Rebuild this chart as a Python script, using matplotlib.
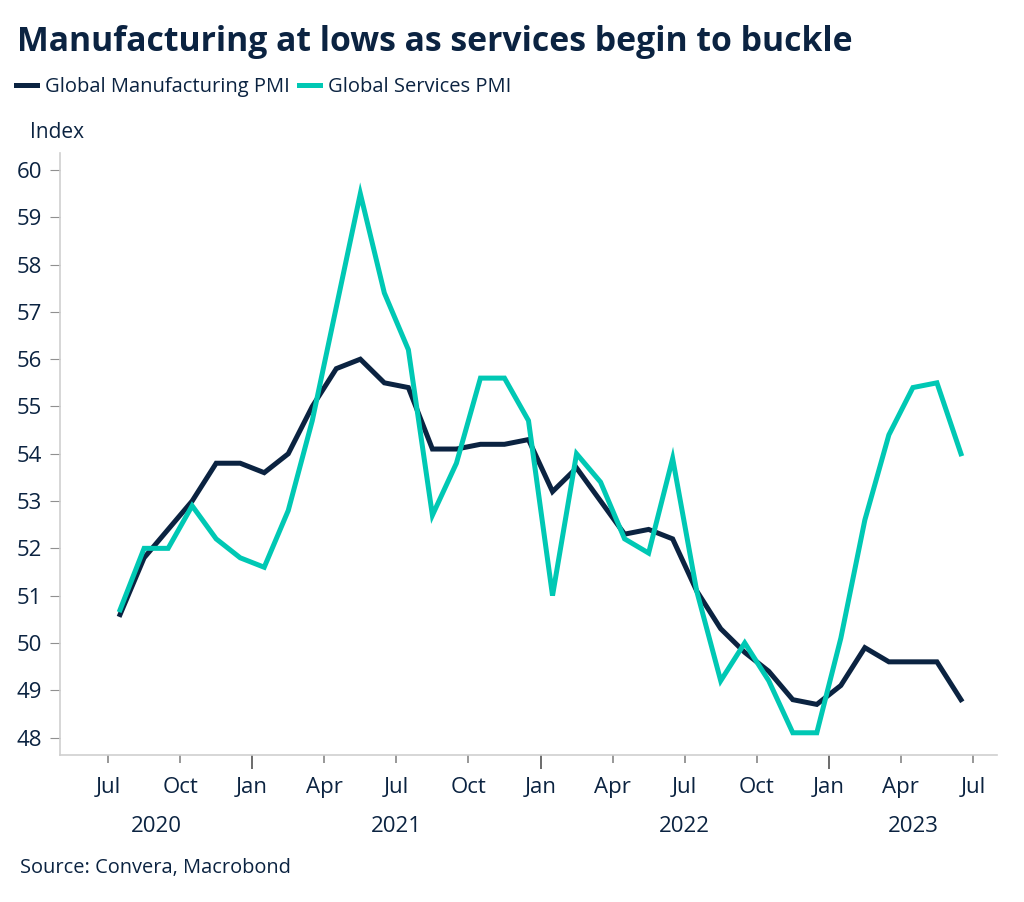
import matplotlib
matplotlib.use("Agg")
import matplotlib.pyplot as plt
from matplotlib.transforms import blended_transform_factory

# monthly values, Jul 2020 .. Jun 2023
months = ["Jul", "Aug", "Sep", "Oct", "Nov", "Dec"] + \
         ["Jan", "Feb", "Mar", "Apr", "May", "Jun", "Jul", "Aug", "Sep", "Oct", "Nov", "Dec"] * 2 + \
         ["Jan", "Feb", "Mar", "Apr", "May", "Jun"]
manufacturing = [50.6, 51.8, 52.4, 53.0, 53.8, 53.8,
                 53.6, 54.0, 55.0, 55.8, 56.0, 55.5, 55.4, 54.1, 54.1, 54.2, 54.2, 54.3,
                 53.2, 53.7, 53.0, 52.3, 52.4, 52.2, 51.1, 50.3, 49.8, 49.4, 48.8, 48.7,
                 49.1, 49.9, 49.6, 49.6, 49.6, 48.8]
services = [50.7, 52.0, 52.0, 52.9, 52.2, 51.8,
            51.6, 52.8, 54.7, 57.1, 59.5, 57.4, 56.2, 52.7, 53.8, 55.6, 55.6, 54.7,
            51.0, 54.0, 53.4, 52.2, 51.9, 53.9, 51.1, 49.2, 50.0, 49.2, 48.1, 48.1,
            50.1, 52.6, 54.4, 55.4, 55.5, 54.0]
years = ["2020", "2021", "2022", "2023"]
quarter_labels = ["Jul", "Oct", "Jan", "Apr"] * 3 + ["Jul"]

navy = "#0b2341"
teal = "#00c8b4"
grey = "#cfcfcf"
plt.rcParams['font.family'] = ['Open Sans', 'DejaVu Sans']

fig = plt.figure(figsize=(10.24, 9.02), dpi=100)
ax = fig.add_axes([60/1024, 1-755/902, (997-60)/1024, (755-153)/902])

# points sit in the middle of each month
x = [i + 0.5 for i in range(len(manufacturing))]
ax.plot(x, manufacturing, color=navy, lw=3.6, solid_joinstyle='miter', label="Global Manufacturing PMI")
ax.plot(x, services, color=teal, lw=3.6, solid_joinstyle='miter', label="Global Services PMI")

ax.set_xlim(-2, 37)
ax.set_ylim(47.63, 60.36)
ax.set_yticks(range(48, 61))
ax.tick_params(axis='y', length=7, color='#909090', labelsize=16, labelcolor=navy, pad=6)

qpos = list(range(0, 37, 3))
jan = [p for p, l in zip(qpos, quarter_labels) if l == "Jan"]
other = [p for p, l in zip(qpos, quarter_labels) if l != "Jan"]
ax.set_xticks(jan, ["Jan"] * len(jan))
ax.set_xticks(other, [l for l in quarter_labels if l != "Jan"], minor=True)
ax.tick_params(axis='x', which='major', length=10, width=1.3, color='#606060', labelsize=16, labelcolor=navy, pad=6)
ax.tick_params(axis='x', which='minor', length=6, width=1.3, color='#909090', labelsize=16, labelcolor=navy, pad=10)

for s in ["top", "right"]:
    ax.spines[s].set_visible(False)
for s in ["left", "bottom"]:
    ax.spines[s].set_color(grey)
    ax.spines[s].set_linewidth(1.2)

# year labels centred on the visible part of each year
lo, hi = ax.get_xlim()
bounds = [lo] + jan + [hi]
tr = blended_transform_factory(ax.transData, ax.transAxes)
for i, yr in enumerate(years):
    ax.text((bounds[i] + bounds[i+1]) / 2, -0.118, yr, transform=tr, ha='center', va='center',
            fontsize=16, color=navy)

fig.text(17/1024, 1-42/902, "Manufacturing at lows as services begin to buckle", fontsize=24.3,
         fontweight='bold', color=navy, va='center', ha='left')
leg = fig.legend(loc='upper left', bbox_to_anchor=(6/1024, 1-67/902), ncol=2, frameon=False,
                 fontsize=14.5, handlelength=1.05, handletextpad=0.4, columnspacing=0.45, borderpad=0)
for t in leg.get_texts():
    t.set_color(navy)
fig.text(30/1024, 1-133/902, "Index", fontsize=15, color=navy, va='center', ha='left')
fig.text(20/1024, 1-868/902, "Source: Convera, Macrobond", fontsize=14.4, color=navy, va='center', ha='left')

plt.savefig("out.png", dpi=100, facecolor='w')
